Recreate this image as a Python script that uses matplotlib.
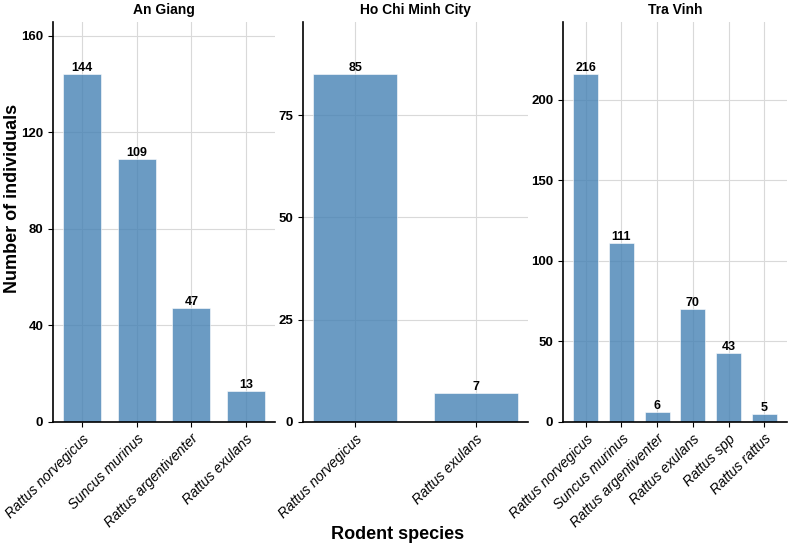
import matplotlib.pyplot as plt

plt.rcParams['font.family'] = ['Liberation Sans', 'DejaVu Sans']

provinces = ['An Giang', 'Ho Chi Minh City', 'Tra Vinh']
species_ag = ['Rattus norvegicus', 'Suncus murinus', 'Rattus argentiventer', 'Rattus exulans']
counts_ag = [144, 109, 47, 13]
species_hcm = ['Rattus norvegicus', 'Rattus exulans']
counts_hcm = [85, 7]
species_tv = ['Rattus norvegicus', 'Suncus murinus', 'Rattus argentiventer',
              'Rattus exulans', 'Rattus spp', 'Rattus rattus']
counts_tv = [216, 111, 6, 70, 43, 5]
yticks = [[0, 40, 80, 120, 160], [0, 25, 50, 75], [0, 50, 100, 150, 200]]

fig = plt.figure(figsize=(7.95, 5.46), dpi=100)
W, H = 795, 546
# panel edges in pixels (left, right)
edges = [(53, 275), (303, 528), (563, 787)]
top, bottom = 22, 422
axes = [fig.add_axes([l / W, 1 - bottom / H, (r - l) / W, (bottom - top) / H]) for l, r in edges]

data = [(species_ag, counts_ag), (species_hcm, counts_hcm), (species_tv, counts_tv)]
for ax, title, (names, vals), yt in zip(axes, provinces, data, yticks):
    x = range(len(names))
    ax.set_axisbelow(True)
    ax.grid(True, color='#d9d9d9', linewidth=0.8)
    bars = ax.bar(x, vals, width=0.7, color='steelblue', alpha=0.8,
                  edgecolor='white', linewidth=0.5)
    for b, v in zip(bars, vals):
        ax.text(b.get_x() + b.get_width() / 2, v, str(v), ha='center', va='bottom',
                fontsize=9, fontweight='bold')
    ax.set_ylim(0, max(vals) * 1.15)
    ax.set_yticks(yt)
    ax.set_xticks(list(x))
    ax.set_xticklabels(names, rotation=45, ha='right', rotation_mode='anchor',
                       fontstyle='italic', fontsize=10)
    for lab in ax.get_yticklabels():
        lab.set_fontweight('bold')
    ax.tick_params(axis='y', labelsize=9.5)
    ax.tick_params(length=3.5)
    ax.set_title(title, fontsize=10, fontweight='bold')
    ax.spines['top'].set_visible(False)
    ax.spines['right'].set_visible(False)
    ax.spines['left'].set_linewidth(1.2)
    ax.spines['bottom'].set_linewidth(1.2)

fig.text(13 / W, 1 - 198 / H, 'Number of individuals', rotation=90, ha='center', va='center',
         fontsize=13, fontweight='bold')
fig.text(0.5, 0.006, 'Rodent species', ha='center', va='bottom', fontsize=13, fontweight='bold')

plt.savefig('out.png', dpi=100)
